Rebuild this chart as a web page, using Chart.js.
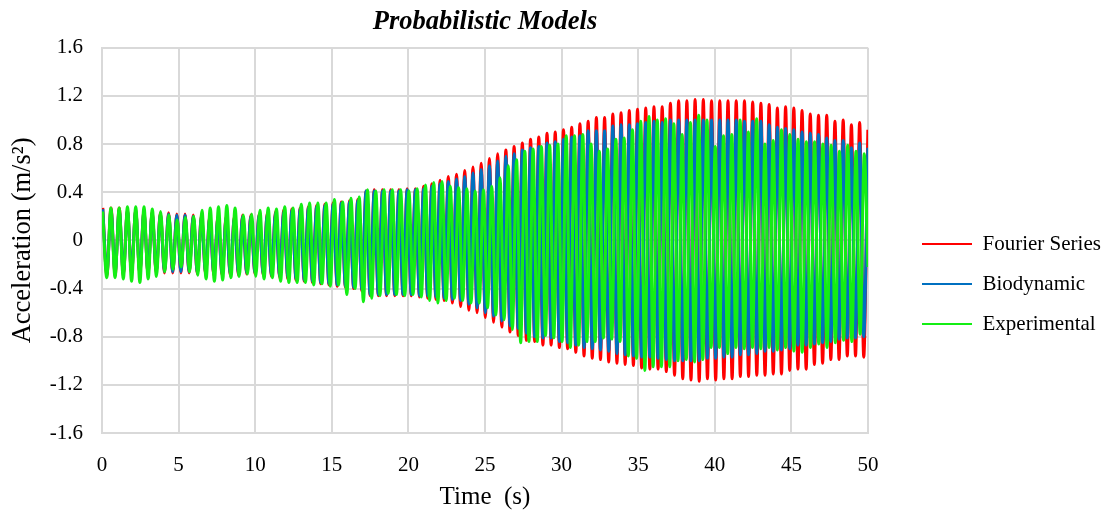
<!DOCTYPE html>
<html lang="pt-BR">
<head>
<meta charset="UTF-8">
<title>Probabilistic Models</title>
<script src="https://cdn.jsdelivr.net/npm/chart.js@4.4.0/dist/chart.umd.min.js"></script>
<style>
  html, body { margin: 0; padding: 0; background: #ffffff; }
  #caixa { width: 1110px; height: 512px; }
</style>
</head>
<body>
<div id="caixa"><canvas id="graficoModelos" width="1110" height="512"></canvas></div>
<script>
// Valores: um pico e um vale por ciclo de ~0.54 s (aceleração em m/s²)

// Fourier Series (vermelho) - instante do primeiro pico e período
const inicioFourier = 0.05;
const periodoFourier = 0.537;
const picosFourier = [
  0.27, 0.27, 0.27, 0.26, 0.26, 0.25, 0.24, 0.23, 0.23, 0.22,
  0.22, 0.21, 0.21, 0.20, 0.20, 0.20, 0.20, 0.21, 0.21, 0.22,
  0.23, 0.24, 0.25, 0.26, 0.27, 0.28, 0.29, 0.30, 0.31, 0.32,
  0.33, 0.34, 0.41, 0.42, 0.42, 0.42, 0.42, 0.43, 0.43, 0.45,
  0.47, 0.50, 0.53, 0.55, 0.58, 0.61, 0.64, 0.68, 0.72, 0.75,
  0.78, 0.81, 0.84, 0.86, 0.89, 0.90, 0.92, 0.94, 0.97, 0.99,
  1.02, 1.02, 1.05, 1.06, 1.08, 1.09, 1.10, 1.11, 1.11, 1.14,
  1.16, 1.16, 1.17, 1.17, 1.16, 1.16, 1.16, 1.16, 1.16, 1.15,
  1.14, 1.13, 1.10, 1.11, 1.10, 1.08, 1.05, 1.04, 1.04, 0.99,
  1.00, 0.96, 0.98, 0.92
];
const valesFourier = [
  -0.29, -0.29, -0.29, -0.28, -0.28, -0.28, -0.27, -0.27, -0.27, -0.27,
  -0.27, -0.28, -0.28, -0.29, -0.29, -0.29, -0.29, -0.28, -0.28, -0.29,
  -0.30, -0.31, -0.32, -0.33, -0.34, -0.35, -0.36, -0.37, -0.38, -0.39,
  -0.40, -0.42, -0.46, -0.46, -0.46, -0.46, -0.46, -0.46, -0.47, -0.48,
  -0.49, -0.50, -0.52, -0.55, -0.58, -0.60, -0.64, -0.68, -0.72, -0.76,
  -0.79, -0.83, -0.84, -0.87, -0.87, -0.89, -0.90, -0.93, -0.96, -0.98,
  -0.99, -1.01, -1.02, -1.03, -1.04, -1.06, -1.07, -1.07, -1.09, -1.12,
  -1.15, -1.16, -1.17, -1.15, -1.16, -1.15, -1.15, -1.13, -1.13, -1.12,
  -1.12, -1.11, -1.11, -1.08, -1.07, -1.07, -1.03, -1.02, -0.99, -0.99,
  -0.96, -0.96, -0.97
];

// Biodynamic (azul) - mesmo ritmo do modelo de Fourier
const inicioBiodinamico = 0.05;
const periodoBiodinamico = 0.537;
const picosBiodinamico = [
  0.26, 0.26, 0.26, 0.25, 0.25, 0.24, 0.23, 0.22, 0.22, 0.21,
  0.21, 0.20, 0.20, 0.19, 0.19, 0.19, 0.19, 0.20, 0.20, 0.21,
  0.22, 0.23, 0.24, 0.25, 0.26, 0.27, 0.28, 0.29, 0.30, 0.31,
  0.32, 0.33, 0.41, 0.41, 0.41, 0.41, 0.41, 0.42, 0.42, 0.43,
  0.45, 0.47, 0.49, 0.51, 0.53, 0.56, 0.59, 0.62, 0.66, 0.70,
  0.72, 0.75, 0.77, 0.78, 0.81, 0.82, 0.84, 0.86, 0.87, 0.91,
  0.91, 0.91, 0.95, 0.96, 0.96, 0.97, 0.98, 0.99, 0.98, 1.00,
  1.00, 1.00, 1.00, 1.00, 1.00, 1.00, 1.00, 1.00, 0.99, 0.99,
  0.99, 0.96, 0.94, 0.93, 0.92, 0.90, 0.89, 0.88, 0.85, 0.83,
  0.83, 0.77, 0.81, 0.77
];
const valesBiodinamico = [
  -0.28, -0.28, -0.28, -0.27, -0.27, -0.27, -0.26, -0.26, -0.26, -0.26,
  -0.26, -0.27, -0.27, -0.28, -0.28, -0.28, -0.28, -0.27, -0.27, -0.28,
  -0.29, -0.30, -0.31, -0.32, -0.33, -0.34, -0.35, -0.36, -0.37, -0.38,
  -0.39, -0.41, -0.45, -0.45, -0.45, -0.45, -0.45, -0.45, -0.46, -0.46,
  -0.47, -0.48, -0.49, -0.50, -0.53, -0.56, -0.60, -0.63, -0.67, -0.71,
  -0.73, -0.77, -0.80, -0.81, -0.81, -0.84, -0.85, -0.87, -0.89, -0.90,
  -0.91, -0.92, -0.94, -0.95, -0.96, -0.97, -0.97, -0.98, -0.99, -1.00,
  -1.00, -1.00, -1.00, -0.98, -0.98, -0.97, -0.97, -0.95, -0.95, -0.94,
  -0.92, -0.92, -0.91, -0.90, -0.87, -0.87, -0.86, -0.85, -0.84, -0.82,
  -0.81, -0.81, -0.80
];

// Experimental (verde) - ciclo um pouco mais longo, termina subindo em t = 50 s
const inicioExperimental = 0.04;
const periodoExperimental = 0.5404;
const picosExperimental = [
  0.24, 0.27, 0.27, 0.28, 0.28, 0.28, 0.26, 0.24, 0.21, 0.17,
  0.19, 0.20, 0.25, 0.27, 0.28, 0.29, 0.27, 0.21, 0.22, 0.25,
  0.27, 0.26, 0.28, 0.27, 0.30, 0.31, 0.31, 0.31, 0.34, 0.32,
  0.35, 0.36, 0.42, 0.41, 0.42, 0.42, 0.42, 0.41, 0.43, 0.46,
  0.48, 0.49, 0.45, 0.44, 0.43, 0.41, 0.42, 0.45, 0.52, 0.62,
  0.67, 0.74, 0.76, 0.78, 0.79, 0.80, 0.87, 0.87, 0.88, 0.80,
  0.74, 0.76, 0.84, 0.85, 0.92, 0.99, 1.03, 1.00, 1.01, 0.97,
  0.88, 0.98, 1.04, 1.00, 0.78, 0.87, 0.88, 1.00, 0.90, 1.01,
  0.80, 0.83, 0.92, 0.88, 0.84, 0.82, 0.82, 0.80, 0.79, 0.74,
  0.79, 0.74, 0.72
];
const valesExperimental = [
  -0.31, -0.31, -0.32, -0.34, -0.35, -0.32, -0.30, -0.26, -0.24, -0.22,
  -0.26, -0.29, -0.32, -0.34, -0.33, -0.31, -0.30, -0.28, -0.30, -0.32,
  -0.31, -0.34, -0.35, -0.35, -0.35, -0.37, -0.36, -0.38, -0.37, -0.45,
  -0.40, -0.51, -0.48, -0.46, -0.44, -0.45, -0.46, -0.45, -0.47, -0.50,
  -0.52, -0.50, -0.48, -0.50, -0.52, -0.52, -0.56, -0.62, -0.66, -0.74,
  -0.85, -0.84, -0.84, -0.79, -0.81, -0.84, -0.89, -0.87, -0.84, -0.84,
  -0.81, -0.82, -0.84, -0.96, -0.98, -1.08, -1.05, -1.05, -1.05, -1.00,
  -0.99, -1.01, -0.99, -0.89, -0.89, -0.94, -0.89, -0.90, -0.89, -0.90,
  -0.89, -0.91, -0.89, -0.92, -0.93, -0.89, -0.86, -0.89, -0.85, -0.83,
  -0.84, -0.78
];
const finalExperimental = { tempo: 50, valor: -0.22 };

// Eixos
const limitesTempo = [0, 50];
const passoTempo = 5;
const limitesAceleracao = [-1.6, 1.6];
const passoAceleracao = 0.4;

// Monta a sequência pico, vale, pico... de cada série
function montaSerie(inicio, periodo, picos, vales) {
  const pontos = [];
  picos.forEach((pico, i) => {
    pontos.push({ x: inicio + i * periodo, y: pico });
    if (i < vales.length) {
      pontos.push({ x: inicio + (i + 0.5) * periodo, y: vales[i] });
    }
  });
  return pontos;
}

const dadosFourier = montaSerie(inicioFourier, periodoFourier, picosFourier, valesFourier);
const dadosBiodinamico = montaSerie(inicioBiodinamico, periodoBiodinamico, picosBiodinamico, valesBiodinamico);
const dadosExperimental = montaSerie(inicioExperimental, periodoExperimental, picosExperimental, valesExperimental);
dadosExperimental.push({ x: finalExperimental.tempo, y: finalExperimental.valor });

const fonteSerif = 'Liberation Serif';
const corGrade = '#D9D9D9';

// Linha da série: sem pontos, cantos arredondados
function serie(rotulo, cor, dados) {
  return {
    label: rotulo,
    data: dados,
    borderColor: cor,
    backgroundColor: cor,
    borderWidth: 3,
    pointRadius: 0,
    borderJoinStyle: 'round',
    cubicInterpolationMode: 'monotone',
    fill: false
  };
}

// Deixa a caixa da legenda com largura fixa, como no original
const larguraLegenda = {
  id: 'larguraLegenda',
  afterInit(chart) {
    const legenda = chart.legend;
    const ajusteOriginal = legenda.fit.bind(legenda);
    legenda.fit = function () {
      ajusteOriginal();
      this.width = 207;
    };
  }
};

const grafico = new Chart(document.getElementById('graficoModelos'), {
  type: 'line',
  data: {
    // o primeiro conjunto fica por cima: verde, azul, vermelho
    datasets: [
      serie('Experimental', '#14EE14', dadosExperimental),
      serie('Biodynamic', '#0070C0', dadosBiodinamico),
      serie('Fourier Series', '#FF0000', dadosFourier)
    ]
  },
  plugins: [larguraLegenda],
  options: {
    responsive: false,
    animation: false,
    events: [],
    layout: { padding: 0 },
    scales: {
      x: {
        type: 'linear',
        min: limitesTempo[0],
        max: limitesTempo[1],
        afterFit: escala => { escala.height = 79; },
        ticks: {
          stepSize: passoTempo,
          padding: 20,
          color: '#000000',
          font: { family: fonteSerif, size: 21 }
        },
        grid: { color: corGrade, lineWidth: 2, drawTicks: false },
        border: { color: corGrade, width: 2 },
        title: {
          display: true,
          text: 'Time  (s)',
          color: '#000000',
          font: { family: fonteSerif, size: 25 },
          padding: { top: 0, bottom: 0 }
        }
      },
      y: {
        type: 'linear',
        min: limitesAceleracao[0],
        max: limitesAceleracao[1],
        afterFit: escala => { escala.width = 102; },
        ticks: {
          stepSize: passoAceleracao,
          padding: 19,
          color: '#000000',
          font: { family: fonteSerif, size: 21 },
          callback: valor => Math.abs(valor) < 1e-9 ? '0' : valor.toFixed(1)
        },
        grid: { color: corGrade, lineWidth: 2, drawTicks: false },
        border: { color: corGrade, width: 2 },
        title: {
          display: true,
          text: 'Acceleration (m/s²)',
          color: '#000000',
          font: { family: fonteSerif, size: 26.5 },
          padding: { top: 7, bottom: 0 }
        }
      },
      // eixo vazio só para afastar a área do gráfico da legenda
      folga: {
        type: 'linear',
        position: 'right',
        display: true,
        afterFit: escala => { escala.width = 35; },
        ticks: { display: false },
        grid: { display: false, drawTicks: false },
        border: { display: false }
      }
    },
    plugins: {
      title: {
        display: true,
        text: 'Probabilistic Models',
        fullSize: false,
        color: '#000000',
        font: { family: fonteSerif, size: 26.5, style: 'italic', weight: 'bold' },
        padding: { top: 6, bottom: 10 }
      },
      legend: {
        position: 'right',
        title: { display: true, text: '', font: { size: 10 }, padding: { top: 0, bottom: 44 } },
        labels: {
          boxWidth: 50,
          boxHeight: 2,
          padding: 19,
          color: '#000000',
          font: { family: fonteSerif, size: 21 },
          // legenda na ordem vermelho, azul, verde e só a linha, sem contorno
          generateLabels: chart => Chart.defaults.plugins.legend.labels.generateLabels(chart)
            .map(item => ({ ...item, lineWidth: 0 })),
          sort: (a, b) => b.datasetIndex - a.datasetIndex
        }
      },
      tooltip: { enabled: false }
    }
  }
});
</script>
</body>
</html>
